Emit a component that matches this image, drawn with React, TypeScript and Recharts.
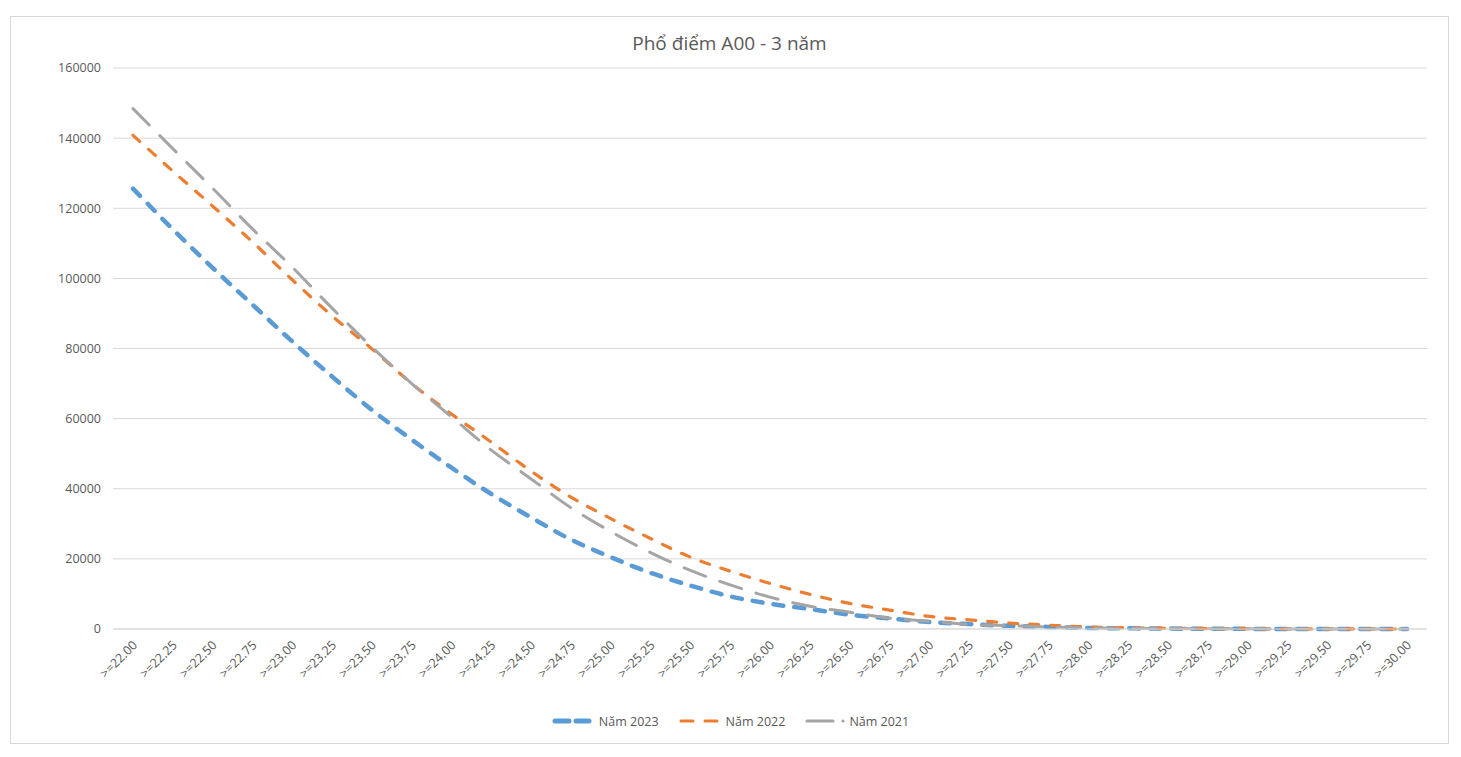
import React from "react";
import { LineChart, Line, XAxis, YAxis, CartesianGrid, Legend } from "recharts";

const categories = [
  ">=22.00", ">=22.25", ">=22.50", ">=22.75", ">=23.00", ">=23.25", ">=23.50", ">=23.75",
  ">=24.00", ">=24.25", ">=24.50", ">=24.75", ">=25.00", ">=25.25", ">=25.50", ">=25.75",
  ">=26.00", ">=26.25", ">=26.50", ">=26.75", ">=27.00", ">=27.25", ">=27.50", ">=27.75",
  ">=28.00", ">=28.25", ">=28.50", ">=28.75", ">=29.00", ">=29.25", ">=29.50", ">=29.75",
  ">=30.00",
];

const nam2023 = [
  125600, 114000, 103000, 92500, 82000, 72000, 62500, 54000,
  46000, 38500, 31800, 25500, 20500, 16000, 12400, 9300,
  7200, 5700, 4100, 3000, 2000, 1400, 900, 600,
  300, 200, 120, 70, 40, 20, 10, 5,
  2,
];

const nam2022 = [
  140800, 130600, 120600, 110400, 99600, 89300, 79900, 70000,
  61300, 53300, 45000, 37600, 31500, 25800, 20500, 16500,
  13000, 9900, 7300, 5400, 3600, 2600, 1700, 1100,
  600, 350, 200, 120, 70, 40, 20, 10,
  5,
];

const nam2021 = [
  148400, 137000, 125700, 114100, 103200, 91500, 80400, 70000,
  60500, 51000, 42800, 34600, 27800, 21800, 16700, 12600,
  9100, 6500, 4800, 3100, 2200, 1300, 950, 600,
  300, 200, 120, 70, 40, 20, 10, 5,
  2,
];

const yTicks = [0, 20000, 40000, 60000, 80000, 100000, 120000, 140000, 160000];

const title = "Phổ điểm A00 - 3 năm";

const series = [
  { key: "n2023", name: "Năm 2023", color: "#5B9BD5", width: 4.5, dash: "10 11" },
  { key: "n2022", name: "Năm 2022", color: "#ED7D31", width: 3.2, dash: "9 12" },
  { key: "n2021", name: "Năm 2021", color: "#A5A5A5", width: 3, dash: "23 15" },
];

const data = categories.map((c, i) => ({
  cat: c,
  n2023: nam2023[i],
  n2022: nam2022[i],
  n2021: nam2021[i],
}));

const FONT = "'Open Sans', 'Liberation Sans', sans-serif";
const TEXT = "#595959";

const XTick = (props: any) => {
  const { x, y, payload } = props;
  return (
    <g transform={`translate(${x + 5},${y + 17})`}>
      <text x={0} y={0} textAnchor="end" fill={TEXT} fontSize={12.5} fontFamily={FONT} transform="rotate(-45)">
        {payload.value}
      </text>
    </g>
  );
};

const LegendIcon = ({ idx }: { idx: number }) => {
  if (idx === 0) {
    return (
      <svg width={40} height={10}>
        <line x1={3} y1={5} x2={17} y2={5} stroke="#5B9BD5" strokeWidth={5} strokeLinecap="round" />
        <line x1={24} y1={5} x2={37} y2={5} stroke="#5B9BD5" strokeWidth={5} strokeLinecap="round" />
      </svg>
    );
  }
  if (idx === 1) {
    return (
      <svg width={40} height={10}>
        <line x1={2} y1={5} x2={14} y2={5} stroke="#ED7D31" strokeWidth={3} strokeLinecap="round" />
        <line x1={26} y1={5} x2={38} y2={5} stroke="#ED7D31" strokeWidth={3} strokeLinecap="round" />
      </svg>
    );
  }
  return (
    <svg width={40} height={10}>
      <line x1={2} y1={5} x2={28} y2={5} stroke="#A5A5A5" strokeWidth={3} strokeLinecap="round" />
      <circle cx={38} cy={5} r={1.6} fill="#A5A5A5" />
    </svg>
  );
};

const LegendContent = () => (
  <div
    style={{
      height: 30,
      display: "flex",
      alignItems: "center",
      justifyContent: "center",
      fontFamily: FONT,
      fontSize: 12.5,
      color: TEXT,
      paddingLeft: 2,
    }}
  >
    {series.map((s, i) => (
      <div key={s.key} style={{ display: "flex", alignItems: "center", marginRight: i < 2 ? 20 : 0 }}>
        <LegendIcon idx={i} />
        <span style={{ marginLeft: i === 2 ? 4 : 7 }}>{s.name}</span>
      </div>
    ))}
  </div>
);

export default function App() {
  return (
    <div
      style={{
        position: "absolute",
        left: 10,
        top: 16,
        width: 1439,
        height: 728,
        border: "1px solid #D9D9D9",
        boxSizing: "border-box",
        background: "#fff",
      }}
    >
      <div
        style={{
          position: "absolute",
          left: -1,
          top: 14,
          width: 1439,
          textAlign: "center",
          fontFamily: FONT,
          fontSize: 19,
          color: TEXT,
          lineHeight: "24px",
        }}
      >
        {title}
      </div>
      <div style={{ position: "absolute", left: -1, top: -1 }}>
        <LineChart width={1439} height={728} data={data} margin={{ top: 52, right: 22, left: 0, bottom: 8 }}>
          <CartesianGrid vertical={false} stroke="#D9D9D9" strokeWidth={1} />
          <XAxis
            dataKey="cat"
            interval={0}
            tickLine={false}
            axisLine={{ stroke: "#D9D9D9" }}
            tick={<XTick />}
            tickSize={0}
            tickMargin={0}
            height={77}
            padding={{ left: 20, right: 20 }}
          />
          <YAxis
            domain={[0, 160000]}
            ticks={yTicks}
            tickLine={false}
            axisLine={false}
            tickSize={0}
            tickMargin={12}
            width={103}
            tick={{ fill: TEXT, fontSize: 12.5, fontFamily: FONT }}
            interval={0}
          />
          {series.map((s) => (
            <Line
              key={s.key}
              type="monotone"
              dataKey={s.key}
              name={s.name}
              stroke={s.color}
              strokeWidth={s.width}
              strokeDasharray={s.dash}
              strokeLinecap="round"
              dot={false}
              activeDot={false}
              isAnimationActive={false}
            />
          ))}
          <Legend
            verticalAlign="bottom"
            content={<LegendContent />}
            wrapperStyle={{ left: 0, width: 1439 }}
          />
        </LineChart>
      </div>
    </div>
  );
}
